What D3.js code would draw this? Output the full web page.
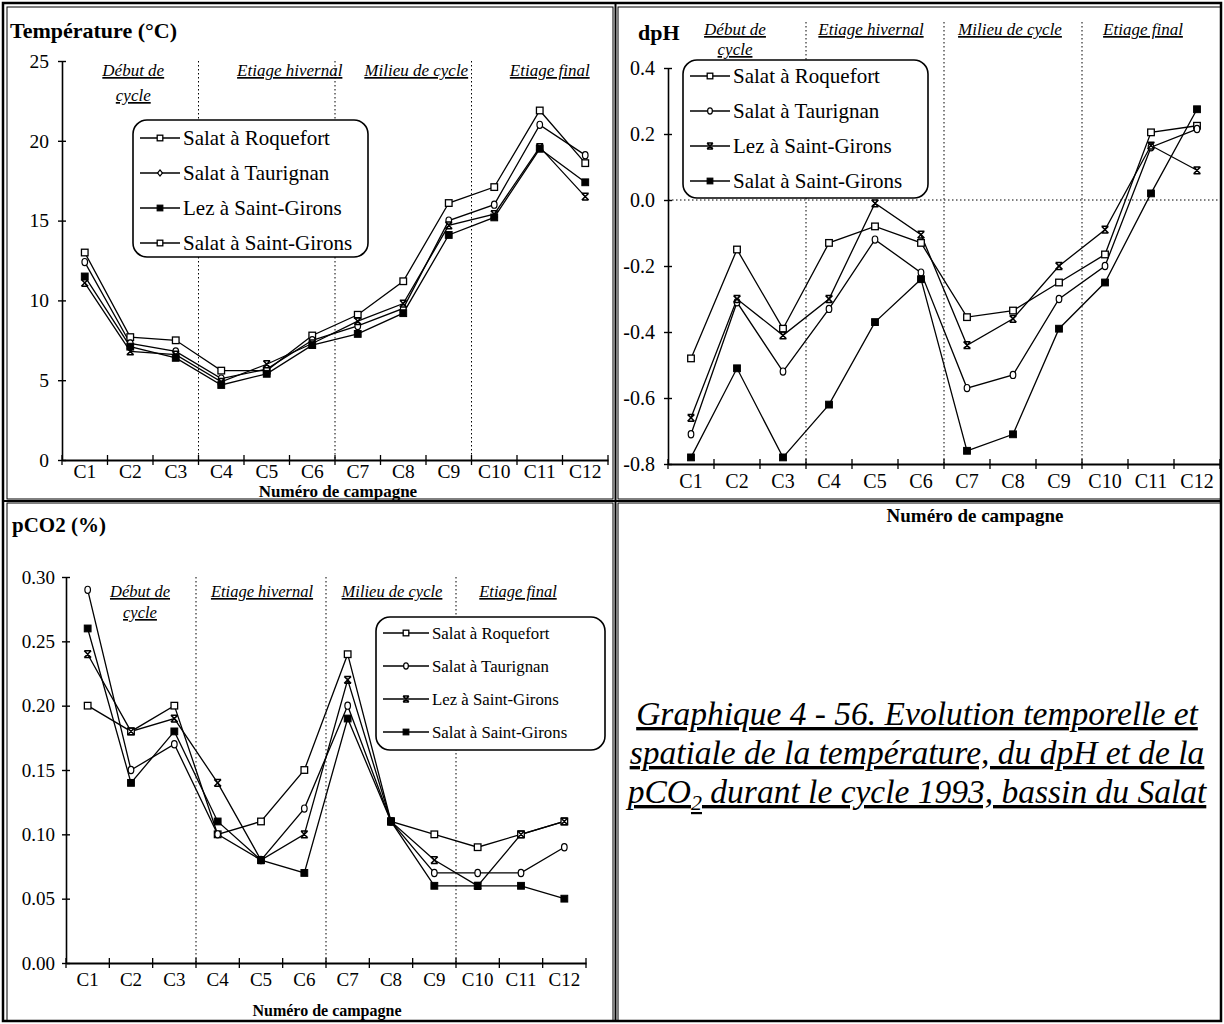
<!DOCTYPE html>
<html><head><meta charset="utf-8">
<script src="https://cdn.jsdelivr.net/npm/d3@7"></script>
<style>
body{margin:0;background:#fff;}
text{font-family:'Liberation Serif','Times New Roman',serif;fill:#000;}
</style></head><body>
<svg id="c" width="1224" height="1024"></svg>
<script>
const campaigns = ["C1","C2","C3","C4","C5","C6","C7","C8","C9","C10","C11","C12"];
const seriesNames = ["Salat à Roquefort","Salat à Taurignan","Lez à Saint-Girons","Salat à Saint-Girons"];
const phaseNames = ["Début de cycle","Etiage hivernal","Milieu de cycle","Etiage final"];

const tempRoquefort = [13.0,7.7,7.5,5.6,5.6,7.8,9.1,11.2,16.1,17.1,21.9,18.6];
const tempTaurignan = [12.4,7.3,6.8,5.1,5.7,7.5,8.4,9.5,15.0,16.0,21.0,19.1];
const tempLez       = [11.1,6.8,6.6,4.9,6.0,7.3,8.7,9.8,14.7,15.4,19.6,16.5];
const tempSalatSG   = [11.5,7.1,6.4,4.7,5.4,7.2,7.9,9.2,14.1,15.2,19.5,17.4];
const tempTicks = [0,5,10,15,20,25];

const dphRoquefort = [-0.48,-0.15,-0.39,-0.13,-0.08,-0.13,-0.355,-0.335,-0.25,-0.165,0.205,0.225];
const dphTaurignan = [-0.71,-0.31,-0.52,-0.33,-0.12,-0.22,-0.57,-0.53,-0.30,-0.20,0.16,0.215];
const dphLez       = [-0.66,-0.30,-0.41,-0.30,-0.01,-0.105,-0.44,-0.36,-0.20,-0.09,0.165,0.09];
const dphSalatSG   = [-0.78,-0.51,-0.78,-0.62,-0.37,-0.24,-0.76,-0.71,-0.39,-0.25,0.02,0.275];
const dphTicks = [-0.8,-0.6,-0.4,-0.2,0.0,0.2,0.4];

const pco2Roquefort = [0.20,0.18,0.20,0.10,0.11,0.15,0.24,0.11,0.10,0.09,0.10,0.11];
const pco2Taurignan = [0.29,0.15,0.17,0.10,0.08,0.12,0.20,0.11,0.07,0.07,0.07,0.09];
const pco2Lez       = [0.24,0.18,0.19,0.14,0.08,0.10,0.22,0.11,0.08,0.06,0.10,0.11];
const pco2SalatSG   = [0.26,0.14,0.18,0.11,0.08,0.07,0.19,0.11,0.06,0.06,0.06,0.05];
const pco2Ticks = [0,0.05,0.10,0.15,0.20,0.25,0.30];

const svg = d3.select("#c");
const FONT = "'Liberation Serif','Times New Roman',serif";

// panel frames
const frames = svg.append("g").attr("fill","none").attr("stroke","#000");
frames.append("rect").attr("x",3).attr("y",3).attr("width",1218).attr("height",1018).attr("stroke-width",2.5);
frames.append("rect").attr("x",7).attr("y",7).attr("width",606).attr("height",492).attr("stroke-width",1);
frames.append("rect").attr("x",618).attr("y",7).attr("width",603).attr("height",492).attr("stroke-width",1);
frames.append("rect").attr("x",7).attr("y",503).attr("width",606).attr("height",518).attr("stroke-width",1);
frames.append("rect").attr("x",618).attr("y",503).attr("width",603).attr("height",518).attr("stroke-width",1);
frames.append("line").attr("x1",3).attr("x2",1221).attr("y1",501).attr("y2",501).attr("stroke-width",2);
frames.append("line").attr("x1",615.5).attr("x2",615.5).attr("y1",3).attr("y2",1021).attr("stroke-width",2);

function marker(g, type, x, y, s) {
  s = s || 1;
  if (type === "osq") {
    g.append("rect").attr("x",x-3.3*s).attr("y",y-3.3*s).attr("width",6.6*s).attr("height",6.6*s)
      .attr("fill","#fff").attr("stroke","#000").attr("stroke-width",1.3);
  } else if (type === "ocirc") {
    g.append("ellipse").attr("cx",x).attr("cy",y).attr("rx",2.8*s).attr("ry",3.6*s)
      .attr("fill","#fff").attr("stroke","#000").attr("stroke-width",1.2);
  } else if (type === "x") {
    const d=3.4*s;
    g.append("path").attr("d",`M${x-d},${y-d}L${x+d},${y-d}M${x-d},${y+d}L${x+d},${y+d}M${x-d},${y-d}L${x+d},${y+d}M${x+d},${y-d}L${x-d},${y+d}`)
      .attr("fill","none").attr("stroke","#000").attr("stroke-width",1.5);
  } else if (type === "fsq") {
    g.append("rect").attr("x",x-3.4*s).attr("y",y-3.4*s).attr("width",6.8*s).attr("height",6.8*s)
      .attr("fill","#000").attr("stroke","#000");
  } else if (type === "odia") {
    g.append("path").attr("d",`M${x},${y-3.6*s}L${x+2.9*s},${y}L${x},${y+3.6*s}L${x-2.9*s},${y}Z`)
      .attr("fill","#fff").attr("stroke","#000").attr("stroke-width",1.2);
  }
}

const dataMarkers = ["osq","ocirc","x","fsq"];
const hyphenFmt = f => (v => f(v).replace("\u2212","-"));

function drawChart(cfg) {
  const g = svg.append("g");
  const x = d3.scaleBand().domain(campaigns).range([cfg.x0, cfg.x1]);
  const y = d3.scaleLinear().domain(cfg.domain).range([cfg.yb, cfg.yt]);

  // phase separators (dotted)
  [3,6,9].forEach(i => {
    const xv = cfg.x0 + i * x.bandwidth();
    g.append("line").attr("x1",xv).attr("x2",xv).attr("y1",cfg.sepTop).attr("y2",cfg.yb)
      .attr("stroke","#000").attr("stroke-width",1).attr("stroke-dasharray","1.5,2.5");
  });
  if (cfg.zeroLine) {
    g.append("line").attr("x1",cfg.x0).attr("x2",cfg.x1).attr("y1",y(0)).attr("y2",y(0))
      .attr("stroke","#000").attr("stroke-width",1).attr("stroke-dasharray","1.5,2.5");
  }

  // axes
  const yAxis = d3.axisLeft(y).tickValues(cfg.ticks).tickFormat(hyphenFmt(cfg.fmt)).tickSizeInner(4).tickSizeOuter(0).tickPadding(cfg.yPad);
  const ga = g.append("g").attr("transform",`translate(${cfg.x0},0)`).call(yAxis);
  ga.select(".domain").attr("stroke-width",1.6);
  ga.selectAll(".tick line").attr("x2",4).attr("x1",-4).attr("stroke-width",1.4);
  ga.selectAll("text").style("font-family",FONT).style("font-size",cfg.fs+"px").attr("fill","#000");

  const xAxis = d3.axisBottom(x).tickSize(0).tickPadding(cfg.xPad);
  const gx = g.append("g").attr("transform",`translate(0,${cfg.yb})`).call(xAxis);
  gx.select(".domain").attr("stroke-width",1.8);
  gx.selectAll("text").style("font-family",FONT).style("font-size",cfg.fs+"px").attr("fill","#000");
  // boundary ticks
  d3.range(13).forEach(i => {
    const xv = cfg.x0 + i * x.bandwidth();
    g.append("line").attr("x1",xv).attr("x2",xv).attr("y1",cfg.yb-5).attr("y2",cfg.yb+5)
      .attr("stroke","#000").attr("stroke-width",1.3);
  });

  // title + axis label
  g.append("text").attr("x",cfg.titleX).attr("y",cfg.titleY).attr("font-weight","bold")
    .style("font-size",cfg.titleFs+"px").text(cfg.title);
  g.append("text").attr("x",cfg.xlabX).attr("y",cfg.xlabY).attr("text-anchor","middle")
    .attr("font-weight","bold").style("font-size",cfg.xlabFs+"px").text("Numéro de campagne");

  // phase labels
  const ph = g.append("g").attr("font-style","italic").style("text-decoration","underline").style("font-size",cfg.phFs+"px");
  const centers = [1.5,4.5,7.5,10.5].map((c,k) => cfg.x0 + c*x.bandwidth() + cfg.phShift[k]);
  ph.append("text").attr("x",centers[0]).attr("y",cfg.phY).attr("text-anchor","middle").text("Début de");
  ph.append("text").attr("x",centers[0]).attr("y",cfg.phY+cfg.phLine).attr("text-anchor","middle").text("cycle");
  ph.append("text").attr("x",centers[1]).attr("y",cfg.phY).attr("text-anchor","middle").text(phaseNames[1]);
  ph.append("text").attr("x",centers[2]).attr("y",cfg.phY).attr("text-anchor","middle").text(phaseNames[2]);
  ph.append("text").attr("x",centers[3]).attr("y",cfg.phY).attr("text-anchor","middle").text(phaseNames[3]);

  // legend
  const L = cfg.legend;
  const lg = g.append("g");
  lg.append("rect").attr("x",L.x).attr("y",L.y).attr("width",L.w).attr("height",L.h)
    .attr("rx",14).attr("ry",14).attr("fill","#fff").attr("stroke","#000").attr("stroke-width",1.6);
  seriesNames.forEach((n,i) => {
    const yy = L.y + L.first + i*L.step;
    lg.append("line").attr("x1",L.x+7).attr("x2",L.x+7+L.len).attr("y1",yy).attr("y2",yy)
      .attr("stroke","#000").attr("stroke-width",1.4);
    marker(lg, L.markers[i], L.x+7+L.len/2, yy, 0.85);
    lg.append("text").attr("x",L.x+10+L.len).attr("y",yy).attr("dy","0.35em")
      .style("font-size",L.fs+"px").text(n);
  });

  // series
  const line = d3.line().x((d,i)=>x(campaigns[i])+x.bandwidth()/2).y(d=>y(d));
  cfg.series.forEach((s,k) => {
    g.append("path").datum(s).attr("d",line).attr("fill","none").attr("stroke","#000").attr("stroke-width",1.3);
  });
  cfg.series.forEach((s,k) => {
    s.forEach((v,i) => marker(g, dataMarkers[k], x(campaigns[i])+x.bandwidth()/2, y(v)));
  });
}

drawChart({
  x0:62, x1:608, yb:460, yt:61, domain:[0,25], ticks:tempTicks, fmt:d3.format("d"),
  fs:19.5, yPad:9, xPad:4, sepTop:61, zeroLine:false,
  title:"Température (°C)", titleX:10, titleY:38, titleFs:22, xlabX:338, xlabY:497, xlabFs:17,
  phFs:17, phY:76, phLine:25, phShift:[3,23,13,10],
  series:[tempRoquefort,tempTaurignan,tempLez,tempSalatSG],
  legend:{x:133,y:120,w:235,h:137,first:18,step:35,len:40,fs:21,markers:["osq","odia","fsq","osq"]}
});

drawChart({
  x0:668, x1:1220, yb:464, yt:68, domain:[-0.8,0.4], ticks:dphTicks, fmt:d3.format(".1f"),
  fs:20, yPad:9, xPad:10, sepTop:22, zeroLine:true,
  title:"dpH", titleX:638, titleY:40, titleFs:22, xlabX:975, xlabY:522, xlabFs:19,
  phFs:17, phY:35, phLine:20, phShift:[-2,-4,-3,-8],
  series:[dphRoquefort,dphTaurignan,dphLez,dphSalatSG],
  legend:{x:683,y:60,w:245,h:138,first:16,step:35,len:40,fs:21,markers:["osq","ocirc","x","fsq"]}
});

drawChart({
  x0:66, x1:586, yb:963, yt:577, domain:[0,0.30], ticks:pco2Ticks, fmt:d3.format(".2f"),
  fs:19, yPad:7, xPad:10, sepTop:577, zeroLine:false,
  title:"pCO2 (%)", titleX:12, titleY:532, titleFs:21, xlabX:327, xlabY:1016, xlabFs:16,
  phFs:16.5, phY:597, phLine:21, phShift:[9,1,1,-3],
  series:[pco2Roquefort,pco2Taurignan,pco2Lez,pco2SalatSG],
  legend:{x:376,y:617,w:229,h:133,first:16,step:33,len:46,fs:16.8,markers:["osq","ocirc","x","fsq"]}
});

// caption
const cap = svg.append("g").attr("font-style","italic").style("font-size","33.5px");
const capLines = ["Graphique 4 - 56. Evolution temporelle et","spatiale de la température, du dpH et de la"];
capLines.forEach((t,i)=>{
  cap.append("text").attr("x",917).attr("y",725+i*39).attr("text-anchor","middle")
    .style("text-decoration","underline").text(t);
});
const t3 = cap.append("text").attr("x",917).attr("y",803).attr("text-anchor","middle").style("text-decoration","underline");
t3.append("tspan").text("pCO");
t3.append("tspan").attr("dy",7).style("font-size","22px").text("2");
t3.append("tspan").attr("dy",-7).text(" durant le cycle 1993, bassin du Salat");
</script></body></html>
